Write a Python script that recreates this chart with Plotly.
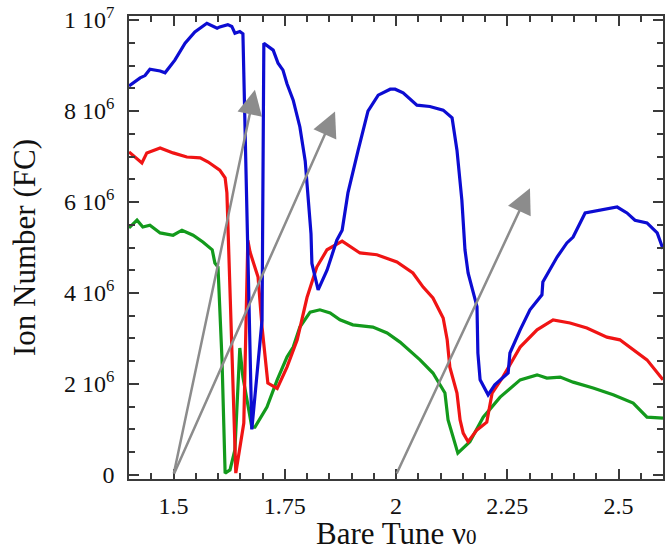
import plotly.graph_objects as go

# ---- data (y in units of 10^6 ions) ----
blue_x = [1.400, 1.425, 1.436, 1.447, 1.470, 1.481, 1.503, 1.526, 1.548, 1.571, 1.575, 1.598, 1.604,
          1.622, 1.631, 1.638, 1.649, 1.656, 1.676, 1.699, 1.703, 1.724, 1.735, 1.746, 1.755, 1.769,
          1.784, 1.796, 1.802, 1.809, 1.811, 1.825, 1.845, 1.867, 1.879, 1.892, 1.915, 1.937, 1.960,
          1.987, 1.998, 2.016, 2.047, 2.076, 2.106, 2.126, 2.137, 2.148, 2.155, 2.162, 2.182, 2.184,
          2.189, 2.207, 2.222, 2.252, 2.256, 2.279, 2.301, 2.328, 2.330, 2.362, 2.384, 2.398, 2.425,
          2.458, 2.497, 2.519, 2.537, 2.564, 2.587, 2.600]
blue_y = [8.55, 8.73, 8.78, 8.92, 8.88, 8.84, 9.12, 9.49, 9.74, 9.89, 9.93, 9.82, 9.85,
          9.90, 9.86, 9.71, 9.75, 9.70, 1.00, 3.40, 9.49, 9.34, 9.05, 8.90, 8.60, 8.24,
          7.65, 6.90, 6.20, 5.30, 4.65, 4.07, 4.50, 5.16, 5.38, 6.20, 7.14, 8.00, 8.35,
          8.48, 8.48, 8.40, 8.13, 8.10, 8.02, 7.85, 7.14, 6.04, 4.95, 4.44, 3.70, 2.68,
          2.09, 1.76, 1.98, 2.24, 2.68, 3.19, 3.63, 3.96, 4.24, 4.79, 5.10, 5.23, 5.76,
          5.82, 5.89, 5.76, 5.60, 5.54, 5.32, 4.97]

red_x = [1.400, 1.429, 1.440, 1.470, 1.499, 1.530, 1.560, 1.578, 1.604, 1.616, 1.620, 1.640,
         1.658, 1.667, 1.672, 1.690, 1.699, 1.712, 1.733, 1.755, 1.778, 1.800, 1.822, 1.845,
         1.879, 1.919, 1.957, 2.002, 2.038, 2.061, 2.083, 2.106, 2.115, 2.121, 2.137, 2.144,
         2.151, 2.162, 2.182, 2.204, 2.216, 2.240, 2.279, 2.317, 2.353, 2.391, 2.429, 2.474,
         2.503, 2.533, 2.564, 2.600]
red_y = [7.10, 6.86, 7.08, 7.19, 7.08, 6.99, 6.97, 6.88, 6.70, 6.53, 6.20, 0.04,
         1.14, 5.16, 4.90, 4.35, 3.25, 2.02, 1.90, 2.37, 2.97, 3.90, 4.57, 4.95,
         5.14, 4.88, 4.84, 4.68, 4.44, 4.13, 3.89, 3.45, 2.97, 2.37, 1.80, 1.21,
         0.92, 0.73, 0.99, 1.16, 1.80, 2.15, 2.81, 3.19, 3.41, 3.34, 3.23, 3.03,
         2.97, 2.75, 2.53, 2.09]

green_x = [1.400, 1.418, 1.431, 1.447, 1.470, 1.499, 1.519, 1.544, 1.566, 1.575, 1.587, 1.593,
           1.600, 1.609, 1.616, 1.627, 1.638, 1.649, 1.656, 1.676, 1.683, 1.710, 1.733, 1.755,
           1.769, 1.784, 1.807, 1.829, 1.852, 1.874, 1.903, 1.948, 1.980, 2.009, 2.054, 2.083,
           2.110, 2.117, 2.139, 2.166, 2.196, 2.234, 2.279, 2.317, 2.339, 2.369, 2.398, 2.443,
           2.488, 2.533, 2.564, 2.600]
green_y = [5.43, 5.60, 5.45, 5.49, 5.32, 5.27, 5.38, 5.27, 5.12, 5.05, 4.95, 4.66,
           4.57, 2.53, 0.04, 0.11, 0.55, 2.79, 2.15, 1.05, 1.05, 1.49, 2.09, 2.59,
           2.81, 3.25, 3.58, 3.63, 3.56, 3.41, 3.30, 3.25, 3.12, 2.92, 2.53, 2.24,
           1.80, 1.21, 0.48, 0.73, 1.27, 1.71, 2.09, 2.20, 2.13, 2.15, 2.04, 1.91,
           1.76, 1.58, 1.27, 1.25]

# gray arrows: tail (x0, y0) -> head (x1, y1)
arrow_x0 = [1.5, 1.5, 2.0]
arrow_y0 = [0.0, 0.0, 0.0]
arrow_x1 = [1.683, 1.863, 2.301]
arrow_y1 = [8.47, 7.99, 6.30]

x_tickvals = [1.5, 1.75, 2.0, 2.25, 2.5]
x_ticktext = ["1.5", "1.75", "2", "2.25", "2.5"]
y_tickvals = [0, 2, 4, 6, 8, 10]
y_ticktext = ["0", "2 10<sup>6</sup>", "4 10<sup>6</sup>", "6 10<sup>6</sup>",
              "8 10<sup>6</sup>", "1 10<sup>7</sup>"]
x_title = "Bare Tune ν<span style='font-size:21px'>0</span>"
y_title = "Ion Number (FC)"

FONT = "Liberation Serif"
AX = "#3a3a3a"

fig = go.Figure()
for xs, ys, col in [(green_x, green_y, "#139a1c"), (red_x, red_y, "#f01414"), (blue_x, blue_y, "#0c0cd2")]:
    fig.add_trace(go.Scatter(x=xs, y=ys, mode="lines", line=dict(color=col, width=3.2),
                             showlegend=False, hoverinfo="skip"))

for x0, y0, x1, y1 in zip(arrow_x0, arrow_y0, arrow_x1, arrow_y1):
    fig.add_annotation(x=x1, y=y1, ax=x0, ay=y0, xref="x", yref="y", axref="x", ayref="y",
                       showarrow=True, arrowhead=2, arrowsize=2.0, arrowwidth=2.5,
                       arrowcolor="#8c8c8c", text="")

# x-axis title placed below the tick labels
fig.add_annotation(text=x_title, xref="paper", yref="paper", x=0.5, y=0, xanchor="center",
                   yanchor="top", yshift=-35, showarrow=False,
                   font=dict(family=FONT, size=31, color="#111"))

common = dict(showline=True, linecolor=AX, linewidth=1.5, mirror="ticks",
              ticks="inside", ticklen=10, tickwidth=1.5, tickcolor=AX,
              showgrid=False, zeroline=False,
              tickfont=dict(family=FONT, size=24, color="#111"))

fig.update_xaxes(range=[1.4, 2.6], tickmode="array", tickvals=x_tickvals, ticktext=x_ticktext,
                 minor=dict(ticks="inside", ticklen=6, tickwidth=1.5, tickcolor=AX,
                            tick0=1.4, dtick=0.05, showgrid=False),
                 ticklabelstandoff=4,
                 **common)
fig.update_yaxes(range=[-0.09, 10.09], tickmode="array", tickvals=y_tickvals, ticktext=y_ticktext,
                 minor=dict(ticks="inside", ticklen=6, tickwidth=1.5, tickcolor=AX,
                            tick0=0, dtick=0.5, showgrid=False),
                 ticklabelstandoff=8,
                 title=dict(text=y_title, font=dict(family=FONT, size=31, color="#111"),
                            standoff=19),
                 **common)

fig.update_layout(width=670, height=552, margin=dict(l=129, r=7, t=16, b=73, autoexpand=False),
                  plot_bgcolor="white", paper_bgcolor="white")

fig.write_html("out.html")
